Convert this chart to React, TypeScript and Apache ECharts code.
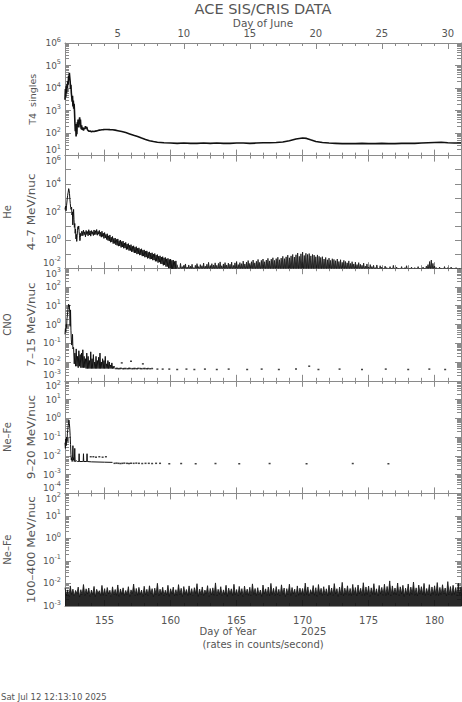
import React, { useEffect, useRef } from "react";
import * as echarts from "echarts";

// ---------------- axis definitions ----------------
const dayRange = [152, 182];
const dayOfYearLabels = [155, 160, 165, 170, 175, 180];
const dayOfJuneLabels = [5, 10, 15, 20, 25, 30];
const juneOffset = 151; // day-of-year of May 31 (2025)
const panelSpecies = ["", "He", "CNO", "Ne–Fe", "Ne–Fe"];
const panelTitles = ["T4  singles", "4–7 MeV/nuc", "7–15 MeV/nuc", "9–20 MeV/nuc", "100–400 MeV/nuc"];
const panelDecades = [
  [1, 6],
  [-2, 6],
  [-3, 3],
  [-4, 2],
  [-3, 2],
];
const panelLabelStep = [1, 2, 1, 1, 1];
const panelMinorTicks = [true, false, true, true, true];

// ---------------- data (day of year, rate) ----------------
const t4 = [
  [152.0, 3000], [152.03, 9000], [152.06, 4000], [152.09, 12000], [152.12, 6000], [152.15, 15000],
  [152.18, 10000], [152.21, 20000], [152.24, 14000], [152.27, 35000], [152.3, 25000], [152.33, 48000],
  [152.36, 30000], [152.39, 20000], [152.42, 9000], [152.45, 14000], [152.48, 6000], [152.51, 4000],
  [152.54, 2500], [152.57, 4500], [152.6, 1500], [152.63, 2800], [152.66, 1200], [152.69, 2000],
  [152.72, 900], [152.75, 300], [152.78, 120], [152.81, 250], [152.84, 70], [152.87, 150],
  [152.9, 90], [152.93, 300], [152.96, 200], [152.99, 400], [153.02, 250], [153.05, 180],
  [153.08, 350], [153.11, 500], [153.14, 250], [153.17, 400], [153.2, 200], [153.23, 150],
  [153.26, 220], [153.3, 140], [153.35, 180], [153.4, 130], [153.45, 170], [153.5, 150],
  [153.55, 200], [153.6, 160], [153.65, 190], [153.7, 140], [153.75, 130], [153.8, 120],
  [153.9, 125], [154.0, 115], [154.1, 120], [154.2, 118], [154.3, 122], [154.4, 125],
  [154.5, 130], [154.6, 135], [154.7, 138], [154.8, 140], [154.9, 142], [155.0, 145],
  [155.2, 145], [155.4, 142], [155.6, 140], [155.8, 135], [156.0, 128], [156.3, 118],
  [156.6, 105], [156.9, 92], [157.2, 80], [157.5, 70], [157.8, 60], [158.1, 52],
  [158.4, 46], [158.7, 42], [159.0, 39], [159.5, 37], [160.0, 36], [160.5, 35],
  [161.0, 36], [161.5, 35], [162.0, 35], [162.5, 36], [163.0, 35], [163.5, 36],
  [164.0, 35], [164.5, 35], [165.0, 36], [165.5, 36], [166.0, 35], [166.5, 36],
  [167.0, 37], [167.5, 37], [168.0, 38], [168.5, 40], [169.0, 46], [169.5, 55],
  [170.0, 60], [170.3, 58], [170.6, 50], [171.0, 42], [171.5, 38], [172.0, 36],
  [172.5, 35], [173.0, 34], [173.5, 34], [174.0, 34], [174.5, 35], [175.0, 34],
  [175.5, 34], [176.0, 35], [176.5, 34], [177.0, 34], [177.5, 35], [178.0, 35],
  [178.5, 35], [179.0, 36], [179.5, 37], [180.0, 38], [180.5, 39], [181.0, 37],
  [181.5, 36], [182.0, 36],
];

const heEarly = [
  [152.0, 150], [152.04, 250], [152.08, 120], [152.12, 300], [152.16, 700], [152.2, 1500],
  [152.24, 2500], [152.28, 4500], [152.31, 3500], [152.34, 2000], [152.37, 800], [152.4, 400],
  [152.43, 200], [152.46, 150], [152.5, 220], [152.53, 60], [152.56, 100], [152.59, 12],
  [152.62, 40], [152.65, 150], [152.68, 30], [152.71, 8], [152.74, 15], [152.77, 3],
  [152.8, 6], [152.83, 1.2], [152.86, 2.5], [152.89, 0.8], [152.92, 2], [152.95, 5],
  [152.98, 9], [153.01, 6], [153.04, 10], [153.07, 4], [153.1, 2], [153.13, 0.9],
  [153.16, 1.5], [153.19, 3], [153.22, 2], [153.25, 4],
];
// alternating upper / lower edge of the noisy He band, every 0.05 day from 153.3
const heBandStart = 153.3;
const heBandStep = 0.05;
const heBand = [
  4.2, 2.0, 5.0, 2.4, 3.8, 1.7, 4.8, 2.5, 4.0, 2.0, 5.4, 2.3, 4.4, 1.9, 4.7, 2.6, 3.9, 2.1, 5.2, 2.4,
  4.6, 2.5, 5.6, 2.2, 4.1, 2.6, 4.8, 1.9, 3.6, 1.6, 4.2, 1.8, 3.1, 1.3, 3.4, 1.4, 2.5, 1.1, 2.8, 0.95,
  2.0, 0.85, 2.3, 0.7, 1.6, 0.72, 1.8, 0.56, 1.3, 0.58, 1.4, 0.46, 1.1, 0.42, 1.2, 0.37, 0.9, 0.38, 1.0, 0.3,
  0.78, 0.32, 0.84, 0.26, 0.62, 0.27, 0.68, 0.21, 0.52, 0.22, 0.56, 0.18, 0.43, 0.18, 0.47, 0.145, 0.36, 0.15, 0.39, 0.12,
  0.31, 0.125, 0.34, 0.1, 0.26, 0.105, 0.28, 0.085, 0.22, 0.088, 0.24, 0.072, 0.19, 0.073, 0.2, 0.06, 0.16, 0.062, 0.17, 0.05,
  0.135, 0.052, 0.145, 0.044, 0.12, 0.045, 0.125, 0.037, 0.1, 0.038, 0.11, 0.031, 0.085, 0.031, 0.092, 0.025, 0.072, 0.027, 0.076, 0.021,
  0.062, 0.02, 0.066, 0.016, 0.054, 0.017, 0.058, 0.013, 0.046, 0.013, 0.05, 0.01, 0.042, 0.01, 0.044, 0.008, 0.036, 0.008, 0.038, 0.008,
  0.03, 0.008, 0.033, 0.008,
];
// upper edge of the He counts near background, every 0.125 day from 160.5
const heTailStart = 160.5;
const heTailStep = 0.125;
const heTail = [
  0.018, 0.011, 0.022, 0.013, 0.016, 0.02, 0.012, 0.017,
  0.014, 0.019, 0.011, 0.016, 0.021, 0.013, 0.018, 0.015,
  0.023, 0.014, 0.019, 0.026, 0.015, 0.021, 0.017, 0.024,
  0.016, 0.022, 0.028, 0.015, 0.02, 0.025, 0.017, 0.023,
  0.019, 0.027, 0.016, 0.024, 0.03, 0.018, 0.025, 0.021,
  0.032, 0.02, 0.027, 0.035, 0.022, 0.029, 0.038, 0.024,
  0.031, 0.042, 0.026, 0.036, 0.045, 0.029, 0.038, 0.05,
  0.033, 0.044, 0.055, 0.036, 0.048, 0.06, 0.04, 0.052,
  0.07, 0.048, 0.064, 0.085, 0.055, 0.075, 0.095, 0.062,
  0.09, 0.12, 0.07, 0.105, 0.14, 0.08, 0.115, 0.095,
  0.11, 0.075, 0.095, 0.085, 0.065, 0.088, 0.07, 0.058,
  0.066, 0.045, 0.058, 0.04, 0.052, 0.036, 0.047, 0.042,
  0.034, 0.045, 0.03, 0.04, 0.026, 0.036, 0.03, 0.024,
  0.033, 0.022, 0.029, 0.02, 0.027, 0.018, 0.025, 0.019,
  0.016, 0.023, 0.014, 0.02, 0.012, 0.018, 0.013, 0.016,
  0.011, 0.017, 0.01, 0.015, 0.012, 0.009, 0.014, 0.011,
  0.009, 0.013, 0.01, 0.016, 0.009, 0.012, 0.01, 0.009,
  0.013, 0.009, 0.011, 0.015, 0.009, 0.01, 0.012, 0.009,
  0.011, 0.009, 0.013, 0.01, 0.009, 0.012, 0.01, 0.014,
  0.018, 0.03, 0.038, 0.022, 0.014, 0.011, 0.009, 0.012,
  0.01, 0.009, 0.013, 0.009, 0.011, 0.009, 0.012, 0.01,
  0.009, 0.011, 0.009, 0.01, 0.009,
];
const heFloor = 0.008;

const cnoEarly = [
  [152.0, 0.3], [152.03, 0.6], [152.06, 0.4], [152.09, 1.0], [152.12, 0.7], [152.15, 2],
  [152.18, 3], [152.21, 5], [152.24, 8], [152.27, 12], [152.3, 9], [152.33, 11],
  [152.36, 4], [152.39, 0.8], [152.42, 6], [152.45, 0.5], [152.48, 0.15], [152.51, 0.08],
  [152.54, 0.12], [152.57, 0.3], [152.6, 0.05],
];
// alternating upper / lower edge of the noisy CNO rate, every 0.05 day from 152.65
const cnoBandStart = 152.65;
const cnoBandStep = 0.05;
const cnoBand = [
  0.06, 0.008, 0.03, 0.006, 0.05, 0.006, 0.02, 0.005, 0.04, 0.006, 0.025, 0.005, 0.03, 0.005,
  0.045, 0.005, 0.02, 0.005, 0.015, 0.0045, 0.03, 0.0045, 0.02, 0.0045, 0.012, 0.0045, 0.035, 0.0045,
  0.015, 0.0045, 0.025, 0.0045, 0.01, 0.0045, 0.02, 0.0045, 0.012, 0.0045, 0.018, 0.0045, 0.03, 0.0045,
  0.01, 0.0045, 0.015, 0.0045, 0.012, 0.0045, 0.02, 0.0045, 0.008, 0.0045, 0.012, 0.0045, 0.01, 0.0045,
  0.007, 0.0045, 0.009, 0.0045, 0.006, 0.0045, 0.006,
];
const cnoDots = [
  [155.85, 0.0045], [155.95, 0.0046], [156.05, 0.0044], [156.15, 0.0045], [156.25, 0.0046], [156.4, 0.0044],
  [156.5, 0.0045], [156.6, 0.0045], [156.75, 0.0044], [156.85, 0.0046], [156.95, 0.0045], [157.1, 0.0044],
  [157.2, 0.0045], [157.3, 0.0045], [157.45, 0.0044], [157.55, 0.0046], [157.7, 0.0045], [157.8, 0.0044],
  [157.95, 0.0045], [158.05, 0.0045], [158.2, 0.0044], [158.3, 0.0045], [158.45, 0.0044], [158.6, 0.0045],
  [156.3, 0.009], [157.0, 0.011], [157.9, 0.008], [159.0, 0.0042], [159.4, 0.0042], [159.9, 0.0042],
  [160.5, 0.004], [161.2, 0.0042], [161.8, 0.004], [162.6, 0.0042], [163.5, 0.004], [164.4, 0.0042],
  [165.8, 0.004], [166.9, 0.0042], [168.2, 0.004], [169.5, 0.0042], [170.5, 0.006], [171.2, 0.004],
  [172.8, 0.0042], [174.5, 0.004], [176.3, 0.0042], [178.0, 0.004], [179.6, 0.0042], [180.8, 0.004],
];

const neEarly = [
  [152.0, 0.05], [152.03, 0.025], [152.06, 0.08], [152.09, 0.035], [152.12, 0.1], [152.15, 0.06],
  [152.18, 0.15], [152.21, 0.25], [152.24, 0.4], [152.27, 0.6], [152.3, 0.8], [152.33, 0.55],
  [152.36, 0.3], [152.39, 0.12], [152.42, 0.04], [152.45, 0.012], [152.48, 0.006], [152.51, 0.008],
  [152.54, 0.005], [152.57, 0.007], [152.6, 0.035], [152.63, 0.006], [152.66, 0.008], [152.7, 0.005],
  [152.74, 0.025], [152.77, 0.005], [152.85, 0.0055], [152.95, 0.005], [153.05, 0.005], [153.07, 0.013],
  [153.09, 0.005], [153.3, 0.005], [153.38, 0.005], [153.4, 0.013], [153.42, 0.005], [153.65, 0.005],
  [153.67, 0.013], [153.69, 0.005], [154.0, 0.0048], [154.5, 0.0047], [155.0, 0.0046], [155.6, 0.0045],
];
const neDots = [
  [153.95, 0.009], [154.15, 0.009], [154.35, 0.0085], [154.6, 0.009], [154.85, 0.0085], [155.1, 0.009],
  [155.75, 0.004], [155.9, 0.0041], [156.05, 0.004], [156.2, 0.0039], [156.35, 0.004], [156.5, 0.0041],
  [156.7, 0.004], [156.85, 0.0039], [157.0, 0.004], [157.2, 0.004], [157.4, 0.0041], [157.6, 0.004],
  [157.85, 0.0039], [158.1, 0.004], [158.35, 0.004], [158.6, 0.0039], [158.9, 0.004], [159.2, 0.004],
  [159.9, 0.0038], [160.8, 0.0039], [161.9, 0.0038], [163.4, 0.0039], [165.2, 0.0038], [167.5, 0.0039],
  [170.3, 0.0038], [173.8, 0.0039], [176.5, 0.0038],
];

// Ne–Fe 100–400 MeV/nuc: alternating upper / lower edge of the background noise,
// in units of 1e-3, every 0.1 day from 152.0
const neHighStart = 152.0;
const neHighStep = 0.1;
const neHighMilli = [
  6.5, 3.0, 5.2, 2.6, 7.8, 3.3, 5.6, 2.8, 4.9, 3.5, 6.9, 2.5, 5.3, 3.1, 9.0, 2.9, 5.8, 3.4, 6.3, 2.7,
  5.1, 3.2, 7.4, 2.6, 5.5, 3.6, 4.8, 2.9, 8.2, 3.0, 5.9, 2.8, 6.6, 3.4, 5.0, 2.6, 7.1, 3.1, 5.4, 3.0,
  8.6, 2.7, 5.7, 3.3, 6.4, 2.9, 4.9, 3.2, 7.2, 2.6, 5.2, 3.5, 9.4, 2.8, 6.0, 3.0, 6.7, 3.2, 5.1, 2.7,
  7.5, 3.1, 5.5, 2.9, 7.9, 3.4, 5.9, 2.6, 6.2, 3.2, 10.2, 2.8, 5.6, 3.3, 6.8, 2.9, 5.0, 3.1, 8.3, 2.7,
  5.8, 3.4, 6.9, 2.8, 5.3, 3.0, 8.9, 3.2, 6.1, 2.6, 7.3, 3.3, 5.4, 2.9, 7.8, 3.1, 5.9, 2.8, 6.5, 3.5,
  9.8, 2.7, 5.6, 3.2, 7.0, 2.9, 5.1, 3.4, 8.0, 2.6, 6.0, 3.1, 6.4, 3.0, 10.6, 2.8, 5.5, 3.3, 7.2, 2.9,
  5.2, 3.2, 8.3, 2.7, 6.2, 3.4, 5.8, 2.9, 9.2, 3.1, 5.4, 2.8, 7.4, 3.3, 5.9, 2.6, 7.6, 3.2, 5.6, 3.0,
  6.8, 2.8, 9.6, 3.3, 6.0, 2.9, 6.5, 3.1, 5.1, 2.7, 8.5, 3.4, 5.8, 3.0, 6.9, 2.8, 10.1, 3.2, 6.1, 2.9,
  7.3, 3.1, 5.5, 2.8, 8.7, 3.3, 6.3, 2.6, 5.9, 3.2, 9.3, 2.9, 6.6, 3.4, 5.6, 2.7, 7.8, 3.0, 6.2, 3.3,
  6.0, 2.9, 10.4, 3.2, 7.0, 2.8, 5.3, 3.4, 8.1, 3.0, 6.5, 2.7, 9.0, 3.3, 6.1, 2.9, 7.2, 3.1, 5.8, 2.8,
  8.4, 3.2, 6.3, 2.9, 9.9, 3.4, 5.9, 2.7, 6.9, 3.1, 11.2, 2.8, 6.2, 3.3, 7.9, 3.0, 6.0, 2.9, 9.1, 3.2,
  6.6, 2.8, 8.6, 3.4, 6.1, 3.0, 10.8, 2.9, 7.0, 3.2, 7.7, 2.7, 6.4, 3.3, 9.8, 3.1, 5.8, 2.8, 8.2, 3.4,
  6.7, 3.0, 9.3, 2.9, 7.4, 3.2, 13.0, 2.8, 7.8, 3.3, 6.3, 3.1, 10.5, 2.9, 7.1, 3.4, 8.3, 2.7, 6.2, 3.2,
  9.5, 2.9, 6.9, 3.3, 11.6, 3.0, 6.4, 2.8, 8.5, 3.4, 7.2, 3.1, 10.1, 2.9, 6.0, 3.2, 8.9, 2.8, 7.0, 3.3,
  7.9, 3.0, 11.0, 2.9, 6.7, 3.2, 8.8, 3.4, 6.3, 2.8, 12.1, 3.1, 7.3, 3.0, 8.3, 3.3, 6.6, 2.9, 10.2, 3.2,
  7.1, 2.8, 9.4, 3.3, 7.5, 3.0, 11.8, 2.9, 6.8, 3.4, 8.7, 3.1, 6.4, 2.8, 9.9, 3.2, 7.7, 3.0, 6.9, 2.9,
  10.6, 3.3, 7.2, 3.1, 8.1, 2.8, 9.6, 3.4, 6.5, 3.0, 8.5, 2.9, 11.4, 3.2, 6.9, 3.1, 7.6, 2.8, 6.1, 3.3,
  9.0, 3.0, 7.0, 2.9, 8.0, 3.3, 10.9, 3.1, 6.6, 2.8, 8.7, 3.4, 6.3, 3.0, 9.5, 2.9, 7.3, 3.2, 7.8, 3.1,
  6.8, 2.8, 10.1, 3.3, 6.4, 3.0, 8.3, 2.9, 5.9, 3.2, 9.2, 3.4, 6.9, 2.8, 7.4, 3.1, 11.5, 3.0, 6.5, 2.9,
  8.0, 3.2, 6.1, 2.8, 9.7, 3.3, 6.6, 3.0, 7.6, 2.9, 5.8, 3.4, 10.3, 3.1, 7.0, 2.8, 8.1, 3.2, 6.2, 3.0,
  8.8, 2.9, 6.5, 3.3, 7.7, 3.0, 5.6, 2.8, 9.8, 3.4, 6.8, 3.1, 6.1, 2.9, 8.4, 3.2, 5.5, 3.0, 7.3, 2.8,
  10.4, 3.3, 6.2, 3.0, 7.4, 2.9, 5.8, 3.2, 6.9, 2.8, 9.0, 3.4, 6.3, 3.1, 5.9, 2.9, 8.0, 3.0, 6.6, 3.3,
  5.6, 2.8, 8.5, 3.2, 6.5, 3.0, 9.9, 2.9, 6.0, 3.4, 5.4, 3.1, 7.9, 2.8, 7.0, 3.2, 11.0, 3.0, 6.2, 2.9,
  7.4, 3.3, 5.9, 2.8, 6.8, 3.1, 8.9, 3.0, 5.5, 2.9, 7.7, 3.4, 6.3, 3.2, 5.7, 2.8, 9.6, 3.1, 6.6, 3.0,
  5.9, 2.9, 8.1, 3.3, 6.2, 3.0, 5.5, 2.8, 10.0, 3.2, 6.9, 3.1, 5.7, 2.9, 7.6, 3.4, 6.5, 3.0, 9.2, 2.8,
  6.0, 3.2, 5.6, 2.9, 8.4, 3.1, 6.6, 3.3, 5.3, 2.8, 9.3, 3.0, 6.3, 3.2, 5.9, 2.9, 7.8, 3.4, 7.1, 3.1,
  10.7, 2.8, 6.2, 3.2, 5.7, 3.0, 8.2, 2.9, 6.8, 3.3, 5.6, 3.1, 8.8, 2.8, 6.5, 3.2, 7.4, 3.0, 5.9, 2.9,
  6.9, 3.3, 9.8, 2.8, 6.0, 3.1, 5.5, 3.0, 8.0, 2.9, 6.3, 3.4, 10.2, 3.2, 5.7, 2.8, 7.3, 3.0, 8.5, 3.1,
  6.6, 2.9, 5.6, 3.3, 9.0, 3.0, 7.0, 2.8, 7.6, 3.2, 11.9, 3.1, 6.0, 2.9, 8.1, 3.3, 5.9, 3.0, 9.5, 2.8,
  6.4, 3.2, 8.6, 3.0, 6.9, 2.9, 10.9, 3.3, 6.1, 3.1, 7.7, 2.8, 9.7, 3.2, 6.7, 3.0, 8.4, 2.9, 7.1, 3.3,
  8.8,
];

// ---------------- helpers ----------------
const FONT = "DejaVu Sans, Liberation Sans, sans-serif";
const AX = "#8a8a8a";
const TXT = "#555";
const INK = "#111";

const lg = (v: number) => Math.log10(v);
const fromPairs = (p: number[][]) => p.map(([d, v]) => [d, lg(v)]);
const fromSeq = (start: number, step: number, vals: number[], scale = 1) =>
  vals.map((v, i) => [start + i * step, lg(v * scale)]);
const fromComb = (start: number, step: number, hi: number[], floor: number) => {
  const out: number[][] = [];
  hi.forEach((v, i) => {
    out.push([start + i * step, lg(v)]);
    out.push([start + i * step + step / 2, lg(floor)]);
  });
  return out;
};

const GRID_TOP = 43;
const GRID_H = 112.6;
const GRID_LEFT = 65;
const GRID_RIGHT = 1;
const NPANEL = panelTitles.length;

function buildOption() {
  const days: number[] = [];
  for (let d = dayRange[0]; d <= dayRange[1]; d++) days.push(d);
  const juneDoy = dayOfJuneLabels.map((d) => d + juneOffset);

  const grids = panelTitles.map((_, i) => ({
    left: GRID_LEFT,
    right: GRID_RIGHT,
    top: GRID_TOP + i * GRID_H,
    height: GRID_H,
  }));

  const xAxes: any[] = [];
  const yAxes: any[] = [];
  const tickStyle = { color: AX, width: 1 };

  panelTitles.forEach((_, i) => {
    const isFirst = i === 0;
    const isLast = i === NPANEL - 1;
    const common = {
      type: "value",
      gridIndex: i,
      min: dayRange[0],
      max: dayRange[1],
      splitLine: { show: false },
    };
    // bottom: day ticks (+ labels on the last panel)
    xAxes.push({
      ...common,
      position: "bottom",
      axisLine: { show: true, onZero: false, lineStyle: tickStyle },
      axisTick: { show: true, inside: true, length: 3, customValues: days, lineStyle: tickStyle },
      axisLabel: isLast
        ? {
            show: true,
            customValues: dayOfYearLabels,
            formatter: (v: number) => String(Math.round(v)),
            margin: 8,
            fontSize: 10,
            lineHeight: 12,
            color: TXT,
            fontFamily: FONT,
          }
        : { show: false },
      name: isLast ? "Day of Year              2025\n(rates in counts/second)" : "",
      nameLocation: "middle",
      nameGap: 19,
      nameMoveOverlap: false,
      nameTextStyle: { fontSize: 10, lineHeight: 13, color: TXT, fontFamily: FONT },
    });
    // bottom: major ticks
    xAxes.push({
      ...common,
      position: "bottom",
      axisLine: { show: false, onZero: false },
      axisTick: { show: true, inside: true, length: 6, customValues: dayOfYearLabels, lineStyle: tickStyle },
      axisLabel: { show: false },
    });
    // top: day ticks (+ Day of June labels on the first panel)
    xAxes.push({
      ...common,
      position: "top",
      axisLine: { show: true, onZero: false, lineStyle: tickStyle },
      axisTick: { show: true, inside: true, length: 3, customValues: days, lineStyle: tickStyle },
      axisLabel: isFirst
        ? {
            show: true,
            customValues: juneDoy,
            formatter: (v: number) => String(Math.round(v - juneOffset)),
            margin: 4,
            fontSize: 10,
            lineHeight: 12,
            color: TXT,
            fontFamily: FONT,
          }
        : { show: false },
      name: isFirst ? "Day of June" : "",
      nameLocation: "middle",
      nameGap: 14,
      nameMoveOverlap: false,
      nameTextStyle: { fontSize: 10.5, lineHeight: 13, color: TXT, fontFamily: FONT },
    });
    // top: major ticks
    xAxes.push({
      ...common,
      position: "top",
      axisLine: { show: false, onZero: false },
      axisTick: {
        show: true,
        inside: true,
        length: 6,
        customValues: isFirst ? juneDoy : dayOfYearLabels,
        lineStyle: tickStyle,
      },
      axisLabel: { show: false },
    });

    const [lo, hi] = panelDecades[i];
    const majors: number[] = [];
    for (let n = lo; n <= hi; n++) majors.push(n);
    const labels = majors.filter((n) => (n - lo) % panelLabelStep[i] === 0);
    const minors: number[] = [];
    if (panelMinorTicks[i]) {
      for (let n = lo; n < hi; n++) for (let k = 2; k <= 9; k++) minors.push(n + Math.log10(k));
    }
    const yCommon = { type: "value", gridIndex: i, min: lo, max: hi, splitLine: { show: false } };
    yAxes.push({
      ...yCommon,
      position: "left",
      axisLine: { show: true, onZero: false, lineStyle: tickStyle },
      axisTick: { show: true, inside: true, length: 6, customValues: majors, lineStyle: tickStyle },
      axisLabel: {
        show: true,
        customValues: labels,
        margin: 4,
        formatter: (v: number) => {
          const e = Math.round(v);
          const core = `{b|10}{s|${e}}`;
          if (i > 0 && e === hi) return `{p| }\n${core}`;
          if (i < NPANEL - 1 && e === lo) return `${core}\n{p| }`;
          return core;
        },
        rich: {
          b: { fontSize: 9, lineHeight: 14, color: TXT, fontFamily: FONT },
          s: { fontSize: 6.5, lineHeight: 7, verticalAlign: "top", color: TXT, fontFamily: FONT },
          p: { fontSize: 1, lineHeight: 11, color: "rgba(0,0,0,0)" },
        },
      },
    });
    yAxes.push({
      ...yCommon,
      position: "left",
      axisLine: { show: false, onZero: false },
      axisTick: {
        show: minors.length > 0,
        inside: true,
        length: 4,
        customValues: minors.length ? minors : majors,
        lineStyle: tickStyle,
      },
      axisLabel: { show: false },
    });
    yAxes.push({
      ...yCommon,
      position: "right",
      axisLine: { show: true, onZero: false, lineStyle: tickStyle },
      axisTick: { show: true, inside: true, length: 6, customValues: majors, lineStyle: tickStyle },
      axisLabel: { show: false },
    });
    yAxes.push({
      ...yCommon,
      position: "right",
      axisLine: { show: false, onZero: false },
      axisTick: {
        show: minors.length > 0,
        inside: true,
        length: 4,
        customValues: minors.length ? minors : majors,
        lineStyle: tickStyle,
      },
      axisLabel: { show: false },
    });
  });

  const line = (panel: number, data: number[][], extra: any = {}) => ({
    type: "line",
    xAxisIndex: panel * 4,
    yAxisIndex: panel * 4,
    data,
    showSymbol: false,
    symbol: "none",
    clip: true,
    silent: true,
    lineStyle: { color: INK, width: 1 },
    ...extra,
  });
  const dots = (panel: number, data: number[][]) => ({
    type: "scatter",
    xAxisIndex: panel * 4,
    yAxisIndex: panel * 4,
    data,
    symbol: "rect",
    symbolSize: [2, 1.5],
    clip: true,
    silent: true,
    itemStyle: { color: INK },
  });

  const series = [
    line(0, fromPairs(t4), { lineStyle: { color: INK, width: 1.6 } }),
    line(1, [...fromPairs(heEarly), ...fromSeq(heBandStart, heBandStep, heBand)]),
    line(1, fromComb(heTailStart, heTailStep, heTail, heFloor), {
      lineStyle: { color: INK, width: 0.8 },
      areaStyle: { origin: "start", color: INK, opacity: 0.7 },
    }),
    line(2, [...fromPairs(cnoEarly), ...fromSeq(cnoBandStart, cnoBandStep, cnoBand)]),
    dots(2, fromPairs(cnoDots)),
    line(3, fromPairs(neEarly)),
    dots(3, fromPairs(neDots)),
    line(4, fromSeq(neHighStart, neHighStep, neHighMilli, 1e-3), {
      lineStyle: { color: INK, width: 0.8 },
      areaStyle: { origin: "start", color: INK, opacity: 0.9 },
    }),
  ];

  // rotated y-axis titles (species line on the outside, energy line next to the axis)
  const yTitles: any[] = [];
  panelTitles.forEach((t, i) => {
    const cy = GRID_TOP + GRID_H * (i + 0.5);
    if (panelSpecies[i]) {
      yTitles.push({
        type: "text",
        x: 7,
        y: cy,
        rotation: Math.PI / 2,
        silent: true,
        style: { text: panelSpecies[i], fill: TXT, fontSize: 10, fontFamily: FONT, align: "center", verticalAlign: "middle" },
      });
    }
    yTitles.push({
      type: "text",
      x: 32,
      y: cy,
      rotation: Math.PI / 2,
      scaleX: i === 0 ? 1 : 1.2,
      silent: true,
      style: { text: t, fill: TXT, fontSize: i === 0 ? 9.5 : 10, fontFamily: FONT, align: "center", verticalAlign: "middle" },
    });
  });

  return {
    animation: false,
    backgroundColor: "#ffffff",
    textStyle: { fontFamily: FONT },
    grid: grids,
    xAxis: xAxes,
    yAxis: yAxes,
    series,
    graphic: [
      {
        type: "text",
        x: 263,
        y: 9,
        silent: true,
        style: {
          text: "ACE SIS/CRIS DATA",
          fill: TXT,
          fontSize: 14.5,
          fontFamily: FONT,
          align: "center",
          verticalAlign: "middle",
        },
      },
      ...yTitles,
      {
        type: "text",
        x: 1,
        y: 697,
        silent: true,
        style: {
          text: "Sat Jul 12 12:13:10 2025",
          fill: TXT,
          fontSize: 8.5,
          fontFamily: FONT,
          align: "left",
          verticalAlign: "middle",
        },
      },
    ],
  };
}

export default function App() {
  const ref = useRef<HTMLDivElement>(null);
  useEffect(() => {
    if (!ref.current) return;
    const chart = echarts.init(ref.current, undefined, { renderer: "svg" });
    chart.setOption(buildOption() as any);
    return () => chart.dispose();
  }, []);
  return (
    <div
      ref={ref}
      style={{ position: "fixed", left: 0, top: 0, width: 462, height: 702, background: "#fff" }}
    />
  );
}
